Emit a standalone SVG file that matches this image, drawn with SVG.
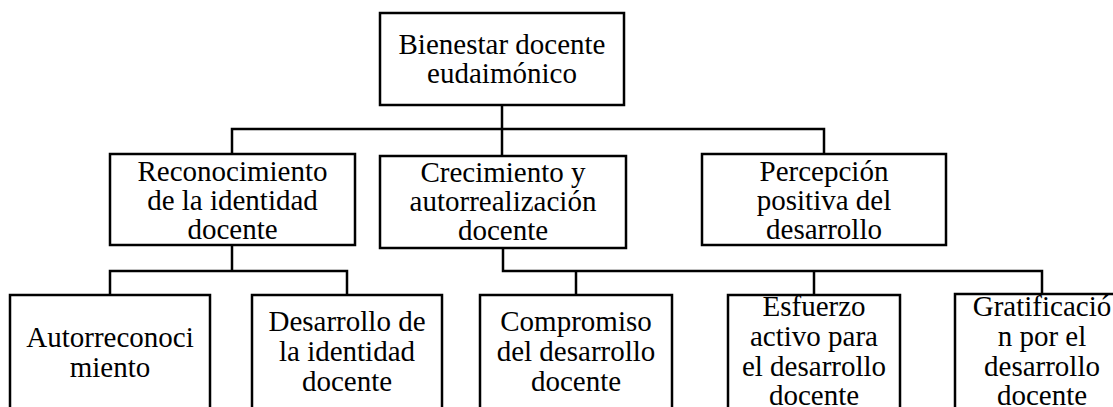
<svg xmlns="http://www.w3.org/2000/svg" width="1113" height="407" viewBox="0 0 1113 407">
<style>
.box{fill:#fff;stroke:#000;stroke-width:2.5}
.con{fill:none;stroke:#000;stroke-width:2.5}
.t{font-family:'Liberation Serif','DejaVu Serif',serif;font-size:29px;fill:#000;text-anchor:middle}
</style>
<rect width="1113" height="407" fill="#fff"/>
<g id="connectors">
<path class="con" d="M502 105V156M232 154V129H824V154"/>
<path class="con" d="M232 245V271M110 295V271H347V295"/>
<path class="con" d="M503 248V271H1042V294M576 271V295M814 271V295"/>
</g>
<g class="t" font-family="Liberation Serif, serif">
<g id="n-root"><rect class="box" x="380" y="13" width="244" height="92"/>
<text x="502" y="54">Bienestar docente</text><text x="502" y="83">eudaimónico</text></g>
<g id="n-reconocimiento"><rect class="box" x="110" y="154" width="245" height="91"/>
<text x="232.5" y="181">Reconocimiento</text><text x="232.5" y="210">de la identidad</text><text x="232.5" y="239">docente</text></g>
<g id="n-crecimiento"><rect class="box" x="380" y="156" width="246" height="92"/>
<text x="503" y="182">Crecimiento y</text><text x="503" y="211">autorrealización</text><text x="503" y="240">docente</text></g>
<g id="n-percepcion"><rect class="box" x="702" y="154" width="244" height="91"/>
<text x="824" y="181">Percepción</text><text x="824" y="210">positiva del</text><text x="824" y="239">desarrollo</text></g>
<g id="n-autorreconocimiento"><rect class="box" x="10" y="295" width="200" height="130"/>
<text x="110" y="347">Autorreconoci</text><text x="110" y="377">miento</text></g>
<g id="n-desarrollo"><rect class="box" x="252" y="295" width="190" height="130"/>
<text x="347" y="331">Desarrollo de</text><text x="347" y="361">la identidad</text><text x="347" y="391">docente</text></g>
<g id="n-compromiso"><rect class="box" x="480" y="295" width="192" height="130"/>
<text x="576" y="331">Compromiso</text><text x="576" y="361">del desarrollo</text><text x="576" y="391">docente</text></g>
<g id="n-esfuerzo"><rect class="box" x="728" y="295" width="172" height="130"/>
<text x="814" y="316">Esfuerzo</text><text x="814" y="346">activo para</text><text x="814" y="376">el desarrollo</text><text x="814" y="405">docente</text></g>
<g id="n-gratificacion"><rect class="box" x="955" y="294" width="174" height="130"/>
<text x="1042" y="316">Gratificació</text><text x="1042" y="346">n por el</text><text x="1042" y="376">desarrollo</text><text x="1042" y="405">docente</text></g>
</g>
</svg>
